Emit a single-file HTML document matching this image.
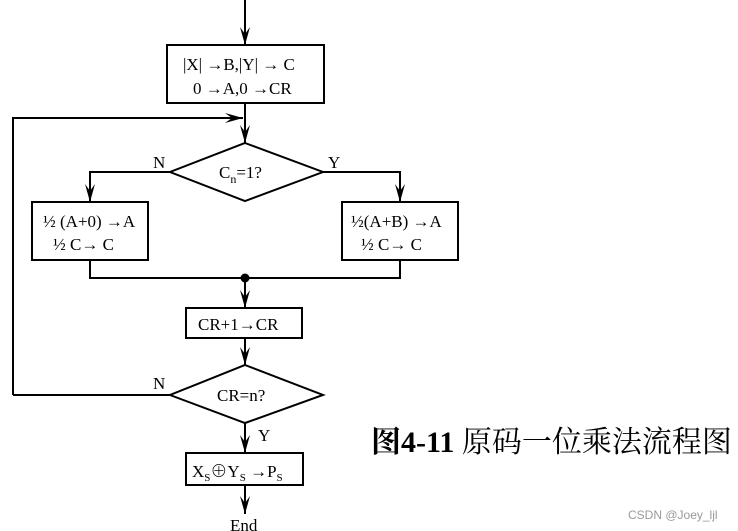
<!DOCTYPE html>
<html><head><style>
body{margin:0;background:#fff;}
svg{display:block;}
text{font-family:"Liberation Serif","Noto Serif CJK SC",serif;fill:#000;}
</style></head><body>
<svg width="738" height="531" viewBox="0 0 738 531" xmlns="http://www.w3.org/2000/svg">
<defs>
<marker id="a" markerWidth="20" markerHeight="10" refX="18" refY="5" orient="auto" markerUnits="userSpaceOnUse" viewBox="0 0 20 10">
<path d="M0,0 L18,5 L0,10 L7,5 Z" fill="#000"/></marker>
</defs>
<g stroke="#000" stroke-width="2" fill="none">
<line x1="245" y1="0" x2="245" y2="45" marker-end="url(#a)"/>
<rect x="167" y="45" width="157" height="58"/>
<line x1="245" y1="103" x2="245" y2="143" marker-end="url(#a)"/>
<polyline points="13,395 13,118 243,118" marker-end="url(#a)"/>
<polygon points="245,143 323,172 245,201 170,172"/>
<polyline points="170,172 90,172 90,202" marker-end="url(#a)"/>
<polyline points="323,172 400,172 400,202" marker-end="url(#a)"/>
<rect x="32" y="202" width="116" height="58"/>
<rect x="342" y="202" width="116" height="58"/>
<polyline points="90,260 90,278 400,278 400,260"/>
<line x1="245" y1="278" x2="245" y2="308" marker-end="url(#a)"/>
<rect x="186" y="308" width="116" height="30"/>
<line x1="245" y1="338" x2="245" y2="365" marker-end="url(#a)"/>
<polygon points="245,365 323,395 245,423 170,395"/>
<line x1="13" y1="395" x2="170" y2="395"/>
<line x1="245" y1="423" x2="245" y2="453" marker-end="url(#a)"/>
<rect x="186" y="453" width="117" height="32"/>
<line x1="245" y1="485" x2="245" y2="514" marker-end="url(#a)"/>
</g>
<circle cx="245" cy="278" r="4.5" fill="#000"/>
<g font-size="17">
<text x="183" y="70">|X| →B,|Y| → C</text>
<text x="193" y="94">0 →A,0 →CR</text>
<text x="219" y="178">C<tspan font-size="12" dy="5">n</tspan><tspan dy="-5">=1?</tspan></text>
<text x="153" y="168">N</text>
<text x="328" y="168">Y</text>
<text x="43" y="227">½ (A+0) →A</text>
<text x="53" y="250">½ C→ C</text>
<text x="351" y="227">½(A+B) →A</text>
<text x="361" y="250">½ C→ C</text>
<text x="198" y="330">CR+1→CR</text>
<text x="217" y="401">CR=n?</text>
<text x="153" y="389">N</text>
<text x="258" y="441">Y</text>
<text x="192" y="477">X<tspan font-size="11" dy="4">S</tspan><tspan dy="-4">⊕Y</tspan><tspan font-size="11" dy="4">S</tspan><tspan dy="-4"> →P</tspan><tspan font-size="11" dy="4">S</tspan></text>
<text x="230" y="531">End</text>
</g>
<text x="371" y="452" font-size="30" font-weight="bold">图4-11 <tspan font-weight="normal">原码一位乘法流程图</tspan></text>
<text x="628" y="519" font-size="12" style="font-family:'Liberation Sans',sans-serif;fill:#999">CSDN @Joey_ljl</text>
</svg>
</body></html>
